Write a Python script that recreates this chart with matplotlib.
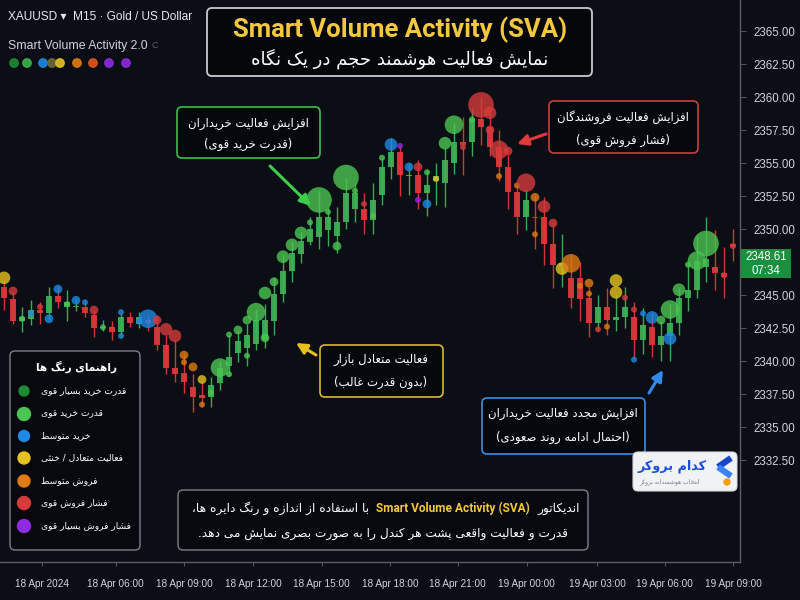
import numpy as np
import matplotlib
matplotlib.use('Agg')
import matplotlib.pyplot as plt
from matplotlib.patches import FancyBboxPatch, Rectangle, Circle
from matplotlib.transforms import blended_transform_factory
from matplotlib.offsetbox import TextArea, HPacker, AnnotationBbox

# ---------------- data ----------------
opens = [2345.6, 2344.7, 2343.0, 2343.2, 2343.9, 2343.6, 2344.9, 2344.1, 2344.1, 2344.1,
         2343.5, 2342.5, 2342.6, 2342.2, 2343.3, 2342.8, 2343.1, 2342.6, 2341.2, 2339.5,
         2339.1, 2338.0, 2337.4, 2337.3, 2338.3, 2339.6, 2340.6, 2341.0, 2341.3, 2341.6,
         2343.0, 2345.1, 2346.8, 2348.1, 2349.0, 2349.4, 2349.9, 2349.5, 2350.5, 2351.5,
         2351.5, 2350.7, 2352.6, 2354.7, 2355.8, 2354.0, 2354.1, 2352.7, 2353.6, 2353.5,
         2355.0, 2356.6, 2356.6, 2358.3, 2357.7, 2356.2, 2354.7, 2352.8, 2350.9, 2350.9,
         2350.9, 2348.9, 2347.2, 2346.3, 2346.3, 2344.8, 2342.9, 2344.1, 2343.1, 2343.3,
         2343.3, 2341.6, 2342.6, 2341.2, 2341.9, 2342.9, 2344.8, 2345.4, 2347.1, 2347.1,
         2346.7, 2348.9]
highs = [2346.1, 2345.2, 2344.1, 2344.6, 2344.5, 2345.6, 2345.7, 2345.4, 2344.7, 2344.6,
         2343.9, 2343.1, 2343.0, 2343.6, 2343.7, 2343.7, 2343.5, 2343.5, 2342.0, 2341.6,
         2340.5, 2339.0, 2338.5, 2338.8, 2340.0, 2342.0, 2342.3, 2342.8, 2343.9, 2344.3,
         2346.4, 2348.0, 2349.0, 2349.8, 2350.9, 2352.9, 2351.7, 2351.7, 2353.9, 2353.5,
         2352.7, 2353.5, 2355.4, 2356.9, 2356.3, 2355.0, 2355.2, 2354.5, 2355.0, 2356.1,
         2358.0, 2358.5, 2359.2, 2360.0, 2358.8, 2357.5, 2355.6, 2353.5, 2353.0, 2352.5,
         2352.4, 2350.5, 2349.6, 2348.0, 2347.5, 2345.6, 2345.0, 2345.5, 2345.0, 2345.6,
         2344.5, 2344.0, 2343.6, 2343.0, 2344.3, 2345.5, 2347.5, 2349.5, 2350.9, 2349.9,
         2348.6, 2350.0]
lows = [2343.9, 2342.8, 2342.2, 2342.7, 2342.8, 2343.1, 2344.0, 2343.0, 2343.8, 2343.3,
        2341.8, 2342.3, 2341.6, 2341.8, 2342.6, 2342.5, 2342.3, 2340.8, 2339.0, 2338.4,
        2337.6, 2336.1, 2336.5, 2336.5, 2337.8, 2338.9, 2339.9, 2339.6, 2340.8, 2341.0,
        2342.0, 2344.5, 2346.0, 2347.4, 2348.8, 2348.5, 2348.7, 2348.2, 2350.0, 2350.5,
        2349.6, 2349.6, 2351.8, 2353.8, 2352.5, 2352.6, 2351.5, 2351.0, 2351.8, 2351.7,
        2354.2, 2354.1, 2355.5, 2356.4, 2355.5, 2353.6, 2351.5, 2349.6, 2349.9, 2348.5,
        2347.3, 2345.5, 2345.6, 2344.0, 2343.0, 2341.8, 2342.3, 2342.0, 2342.3, 2342.5,
        2340.2, 2340.5, 2340.3, 2340.0, 2340.0, 2342.0, 2343.8, 2344.8, 2346.0, 2345.4,
        2344.8, 2347.6]
closes = [2344.8, 2343.0, 2343.3, 2343.9, 2343.6, 2344.9, 2344.5, 2344.5, 2344.2, 2343.6,
          2342.5, 2342.6, 2342.2, 2343.3, 2342.9, 2343.3, 2342.9, 2341.2, 2339.5, 2339.0,
          2338.4, 2337.3, 2337.2, 2338.2, 2339.5, 2340.3, 2341.5, 2342.0, 2343.1, 2343.1,
          2345.1, 2346.8, 2348.2, 2349.1, 2350.0, 2350.9, 2350.9, 2350.5, 2352.7, 2352.7,
          2350.7, 2352.2, 2354.7, 2355.8, 2354.1, 2354.1, 2352.7, 2353.3, 2354.0, 2355.2,
          2356.6, 2356.4, 2358.3, 2357.7, 2356.2, 2354.7, 2352.8, 2350.9, 2352.2, 2350.8,
          2348.9, 2347.3, 2347.4, 2344.8, 2344.7, 2342.9, 2344.1, 2343.1, 2343.3, 2344.1,
          2341.6, 2342.7, 2341.2, 2341.9, 2342.9, 2344.8, 2345.4, 2347.6, 2347.7, 2346.7,
          2346.4, 2348.61]

# SVA bubbles: price, activity class (0..6), strength level (1..5)
bubble_price = [2346.3, 2345.3, 2343.2, 2343.6, 2344.1, 2343.2, 2345.45, 2344.3, 2344.6, 2344.45,
                2343.86, 2342.55, 2342.4, 2343.7, 2343.1, 2343.0, 2343.2, 2343.1, 2342.4, 2341.9,
                2340.45, 2339.55, 2338.6, 2337.6, 2339.5, 2342.0, 2342.35, 2343.1, 2343.7, 2345.15,
                2346.0, 2347.9, 2348.8, 2349.7, 2350.5, 2352.2, 2351.3, 2348.7, 2353.9, 2352.9,
                2351.9, 2351.0, 2355.4, 2356.4, 2356.3, 2354.7, 2354.7, 2354.3, 2353.8, 2356.5,
                2357.9, 2356.2, 2358.3, 2359.4, 2358.8, 2356.0, 2355.9, 2353.3, 2353.5, 2352.4,
                2351.7, 2350.45, 2347.0, 2347.4, 2345.7, 2345.9, 2342.4, 2342.6, 2346.1, 2344.8,
                2343.9, 2343.6, 2343.3, 2343.1, 2343.9, 2345.4, 2347.3, 2347.6, 2348.9, 2346.9,
                2346.5, 2348.7]
bubble_class = [3, 5, 1, 2, 5, 2, 2, 1, 2, 2,
                5, 1, 5, 2, 5, 2, 2, 5, 5, 5,
                4, 4, 3, 1, 1, 1, 1, 1, 1, 1,
                1, 1, 1, 1, 1, 1, 1, 1, 1, 1,
                5, 1, 1, 2, 6, 2, 5, 1, 3, 1,
                1, 5, 1, 5, 5, 5, 5, 4, 5, 4,
                5, 5, 3, 4, 4, 4, 5, 4, 3, 5,
                5, 2, 2, 1, 1, 1, 1, 1, 1, 5,
                5, 5]
bubble_level = [3, 2, 1, 1, 1, 2, 2, 1, 2, 1,
                2, 1, 1, 1, 1, 1, 4, 2, 3, 3,
                2, 2, 2, 1, 4, 1, 2, 2, 4, 3,
                2, 3, 3, 3, 1, 5, 1, 2, 5, 1,
                1, 1, 1, 3, 1, 2, 2, 1, 1, 3,
                4, 1, 1, 5, 3, 4, 2, 1, 4, 2,
                3, 2, 3, 4, 1, 2, 1, 1, 3, 1,
                1, 1, 3, 2, 4, 3, 1, 4, 5, 1,
                1, 1]
# secondary dots
dot_index = [13, 20, 22, 25, 27, 29, 46, 47, 54, 55, 59, 65, 68, 70, 74]
dot_price = [2341.9, 2339.9, 2336.7, 2339.0, 2340.4, 2341.75, 2352.2, 2351.9, 2357.5, 2354.0,
             2349.6, 2345.1, 2345.2, 2340.1, 2341.7]
dot_class = [2, 4, 4, 1, 1, 1, 6, 2, 5, 4, 4, 4, 3, 2, 2]
dot_level = [1, 1, 1, 1, 1, 2, 1, 2, 2, 1, 1, 1, 3, 1, 3]

price_ticks = [2332.5, 2335.0, 2337.5, 2340.0, 2342.5, 2345.0, 2350.0,
               2352.5, 2355.0, 2357.5, 2360.0, 2362.5, 2365.0]
time_labels = ['18 Apr 2024', '18 Apr 06:00', '18 Apr 09:00', '18 Apr 12:00', '18 Apr 15:00',
               '18 Apr 18:00', '18 Apr 21:00', '19 Apr 00:00', '19 Apr 03:00', '19 Apr 06:00',
               '19 Apr 09:00']
time_label_pos = [4.2, 12.4, 20.0, 27.7, 35.3, 42.9, 50.4, 58.1, 65.9, 73.4, 81.0]
last_price = 2348.61
countdown = '07:34'

class_colors = ['#1e8a34', '#4cc552', '#1e88e5', '#e6c21e', '#e07a12', '#d63a3a', '#8e2be0']
legend_labels = ['قدرت خرید بسیار قوی', 'قدرت خرید قوی', 'خرید متوسط', 'فعالیت متعادل / خنثی',
                 'فروش متوسط', 'فشار فروش قوی', 'فشار فروش بسیار قوی']
header_dot_colors = ['#1e8a34', '#3cb44a', '#1e88e5', '#6e6a3a', '#e6c21e', '#e07a12',
                     '#e0561c', '#8e2be0', '#8e2be0']

# ---------------- minimal Persian shaping ----------------
FORMS = {
    '\u0627': ('\uFE8D', '\uFE8E', None, None), '\u0622': ('\uFE81', '\uFE82', None, None),
    '\u0628': ('\uFE8F', '\uFE90', '\uFE91', '\uFE92'), '\u067E': ('\uFB56', '\uFB57', '\uFB58', '\uFB59'),
    '\u062A': ('\uFE95', '\uFE96', '\uFE97', '\uFE98'), '\u062B': ('\uFE99', '\uFE9A', '\uFE9B', '\uFE9C'),
    '\u062C': ('\uFE9D', '\uFE9E', '\uFE9F', '\uFEA0'), '\u0686': ('\uFB7A', '\uFB7B', '\uFB7C', '\uFB7D'),
    '\u062D': ('\uFEA1', '\uFEA2', '\uFEA3', '\uFEA4'), '\u062E': ('\uFEA5', '\uFEA6', '\uFEA7', '\uFEA8'),
    '\u062F': ('\uFEA9', '\uFEAA', None, None), '\u0630': ('\uFEAB', '\uFEAC', None, None),
    '\u0631': ('\uFEAD', '\uFEAE', None, None), '\u0632': ('\uFEAF', '\uFEB0', None, None),
    '\u0698': ('\uFB8A', '\uFB8B', None, None),
    '\u0633': ('\uFEB1', '\uFEB2', '\uFEB3', '\uFEB4'), '\u0634': ('\uFEB5', '\uFEB6', '\uFEB7', '\uFEB8'),
    '\u0635': ('\uFEB9', '\uFEBA', '\uFEBB', '\uFEBC'), '\u0636': ('\uFEBD', '\uFEBE', '\uFEBF', '\uFEC0'),
    '\u0637': ('\uFEC1', '\uFEC2', '\uFEC3', '\uFEC4'), '\u0638': ('\uFEC5', '\uFEC6', '\uFEC7', '\uFEC8'),
    '\u0639': ('\uFEC9', '\uFECA', '\uFECB', '\uFECC'), '\u063A': ('\uFECD', '\uFECE', '\uFECF', '\uFED0'),
    '\u0641': ('\uFED1', '\uFED2', '\uFED3', '\uFED4'), '\u0642': ('\uFED5', '\uFED6', '\uFED7', '\uFED8'),
    '\u06A9': ('\uFB8E', '\uFB8F', '\uFB90', '\uFB91'), '\u06AF': ('\uFB92', '\uFB93', '\uFB94', '\uFB95'),
    '\u0644': ('\uFEDD', '\uFEDE', '\uFEDF', '\uFEE0'), '\u0645': ('\uFEE1', '\uFEE2', '\uFEE3', '\uFEE4'),
    '\u0646': ('\uFEE5', '\uFEE6', '\uFEE7', '\uFEE8'), '\u0648': ('\uFEED', '\uFEEE', None, None),
    '\u0647': ('\uFEE9', '\uFEEA', '\uFEEB', '\uFEEC'), '\u06CC': ('\uFBFC', '\uFBFD', '\uFBFE', '\uFBFF'),
}
MIRROR = {'(': ')', ')': '(', '[': ']', ']': '['}


def shape(s):
    s = s.replace('\u064A', '\u06CC').replace('\u0643', '\u06A9')
    ch = list(s)
    n = len(ch)
    dual = lambda c: c in FORMS and FORMS[c][2] is not None
    out = []
    i = 0
    while i < n:
        c = ch[i]
        prev = ch[i - 1] if i > 0 else ''
        cp = dual(prev)
        if c == '\u0644' and i + 1 < n and ch[i + 1] in ('\u0627', '\u0622'):
            out.append('\uFEFC' if cp else '\uFEFB')
            i += 2
            continue
        if c in FORMS:
            nxt = ch[i + 1] if i + 1 < n else ''
            cn = dual(c) and nxt in FORMS
            iso, fin, ini, med = FORMS[c]
            out.append(med if (cp and cn) else fin if cp else ini if cn else iso)
        else:
            out.append(c)
        i += 1
    return ''.join(out).replace('\u200c', '')


def fa(s):
    return ''.join(MIRROR.get(c, c) for c in reversed(shape(s)))


FA = ['DejaVu Sans']
LAT = ['Liberation Sans', 'DejaVu Sans']
BG = '#0b0e15'

# ---------------- figure ----------------
fig = plt.figure(figsize=(8, 6), dpi=100, facecolor=BG)
ax = fig.add_axes([0, 38 / 600, 740 / 800, 562 / 600])
ax.set_facecolor(BG)

n = len(closes)
x = np.arange(n)
o = np.array(opens); c = np.array(closes); h = np.array(highs); l = np.array(lows)
up = c >= o
cols = np.where(up, '#3fb356', '#e2383b')
ax.vlines(x, l, h, colors=cols, lw=1.0, zorder=3, alpha=0.95)
body_h = np.maximum(np.abs(c - o), 0.08)
ax.bar(x, body_h, bottom=np.minimum(o, c), width=0.64, color=cols, zorder=4, alpha=0.92, linewidth=0)


def rad_to_s(r):
    return (2 * r * 0.72) ** 2


radius = {1: 3.0, 2: 4.4, 3: 6.3, 4: 9.3, 5: 12.8}
ax.scatter(x, bubble_price, s=[rad_to_s(radius[v]) for v in bubble_level],
           c=[class_colors[k] for k in bubble_class], alpha=0.8, linewidths=0, zorder=5)
ax.scatter(np.array(dot_index), dot_price, s=[rad_to_s(radius[v]) for v in dot_level],
           c=[class_colors[k] for k in dot_class], alpha=0.8, linewidths=0, zorder=5)

ax.set_xlim(-4 / 9, 736 / 9)
ax.set_ylim(2365 - 531 / 13.2, 2365 + 31 / 13.2)
ax.yaxis.tick_right()
ax.set_yticks(price_ticks)
ax.set_yticklabels([f'{p:.2f}' for p in price_ticks], family=LAT)
ax.set_xticks(time_label_pos)
ax.set_xticklabels(time_labels, family=LAT)
ax.tick_params(axis='y', length=4, pad=6, labelsize=8.3, labelcolor='#d1d4dc', color='#50535e')
ax.tick_params(axis='x', length=3, pad=9, labelsize=7.2, labelcolor='#d1d4dc', color='#50535e')
for side in ['top', 'left']:
    ax.spines[side].set_visible(False)
for side in ['right', 'bottom']:
    ax.spines[side].set_color('#5a5d66')
    ax.spines[side].set_linewidth(1.0)

# last price label
bt = blended_transform_factory(ax.transAxes, ax.transData)
ax.add_patch(Rectangle((1.001, last_price - 2.32), 50 / 740, 2.19, transform=bt,
                       facecolor='#1c8f3e', edgecolor='none', clip_on=False, zorder=6))
ax.text(1.0 + 26 / 740, last_price - 0.73, f'{last_price:.2f}', transform=bt, ha='center', va='center',
        color='white', fontsize=8.3, family=LAT, zorder=7, clip_on=False)
ax.text(1.0 + 26 / 740, last_price - 1.79, countdown, transform=bt, ha='center', va='center',
        color='white', fontsize=8.3, family=LAT, zorder=7, clip_on=False)

# ---------------- overlay (pixel coordinates) ----------------
ov = fig.add_axes([0, 0, 1, 1], zorder=10)
ov.set_xlim(0, 800)
ov.set_ylim(600, 0)
ov.axis('off')
ov.patch.set_alpha(0)


def rbox(x0, y0, x1, y1, ec, fc='#06080d', lw=1.2, r=5):
    ov.add_patch(FancyBboxPatch((x0, y0), x1 - x0, y1 - y0,
                                boxstyle=f'round,pad=0,rounding_size={r}',
                                ec=ec, fc=fc, lw=lw, zorder=1))


def arrow(tail, head, color):
    ov.annotate('', xy=head, xytext=tail,
                arrowprops=dict(arrowstyle='-|>', color=color, lw=2.2, mutation_scale=16,
                                shrinkA=0, shrinkB=0), zorder=3)


# header
ov.text(8, 17, 'XAUUSD ▾  M15 · Gold / US Dollar', color='#e6e8ee', fontsize=8.6,
        family=LAT, va='center', ha='left')
ov.text(8, 46, 'Smart Volume Activity 2.0', color='#d1d4dc', fontsize=8.8,
        family=LAT, va='center', ha='left')
ov.text(151, 46, 'C', color='#5d606b', fontsize=6.5, family=LAT, va='center', ha='left')
for xx, col in zip([14, 27, 43, 52, 60, 77, 93, 109, 126], header_dot_colors):
    ov.add_patch(Circle((xx, 63), 4.2, color=col, alpha=0.9, zorder=2))

# title box
rbox(207, 8, 592, 76, ec='#c9cbd0', fc='#05070a', lw=1.3, r=5)
ov.text(400, 30, 'Smart Volume Activity (SVA)', color='#f4c83e', fontsize=18.5,
        family=['Roboto', 'DejaVu Sans'], weight='bold', ha='center', va='center', zorder=2)
ov.text(400, 59, fa('نمایش فعالیت هوشمند حجم در یک نگاه'), color='white', fontsize=13,
        family=FA, ha='center', va='center', zorder=2)

# annotation boxes
AF = 8.4
rbox(177, 107, 320, 158, ec='#3cbf4c')
ov.text(248, 123, fa('افزایش فعالیت خریداران'), color='white', fontsize=AF, family=FA,
        ha='center', va='center', zorder=2)
ov.text(248, 144, fa('(قدرت خرید قوی)'), color='white', fontsize=AF, family=FA,
        ha='center', va='center', zorder=2)
arrow((270, 166), (311, 206), '#3ccc4a')

rbox(549, 101, 698, 153, ec='#d33b3b')
ov.text(623, 117, fa('افزایش فعالیت فروشندگان'), color='white', fontsize=AF, family=FA,
        ha='center', va='center', zorder=2)
ov.text(623, 140, fa('(فشار فروش قوی)'), color='white', fontsize=AF, family=FA,
        ha='center', va='center', zorder=2)
arrow((546, 134), (517, 144), '#e03a3a')

rbox(320, 345, 443, 397, ec='#d8b92c')
ov.text(381, 360, fa('فعالیت متعادل بازار'), color='white', fontsize=AF, family=FA,
        ha='center', va='center', zorder=2)
ov.text(381, 382, fa('(بدون قدرت غالب)'), color='white', fontsize=AF, family=FA,
        ha='center', va='center', zorder=2)
arrow((316, 355), (296, 343), '#e6c020')

rbox(482, 398, 645, 454, ec='#3a8ee6')
ov.text(563, 413, fa('افزایش مجدد فعالیت خریداران'), color='white', fontsize=AF, family=FA,
        ha='center', va='center', zorder=2)
ov.text(563, 437, fa('(احتمال ادامه روند صعودی)'), color='white', fontsize=AF, family=FA,
        ha='center', va='center', zorder=2)
arrow((649, 393), (663, 370), '#2f8ae8')

# legend box
rbox(10, 351, 140, 550, ec='#7d8088', fc='#07090e', lw=1.0)
ov.text(77, 367, fa('راهنمای رنگ ها'), color='white', fontsize=7.6, family=FA, weight='bold',
        ha='center', va='center', zorder=2)
leg_y = [391, 414, 436, 458, 481, 503, 526]
for yy, col, lab, rr in zip(leg_y, class_colors, legend_labels, [5, 6.5, 5.5, 6, 6, 6.5, 6.5]):
    ov.add_patch(Circle((24, yy), rr, color=col, zorder=2))
    ov.text(41, yy, fa(lab), color='white', fontsize=6.6, family=FA, ha='left', va='center', zorder=2)

# bottom description box
BF = 8.7
rbox(178, 490, 588, 550, ec='#7d8088', fc='#07090e', lw=1.0)
t_left = TextArea(fa('با استفاده از اندازه و رنگ دایره ها،'),
                  textprops=dict(color='white', fontsize=BF, family=FA))
t_mid = TextArea('Smart Volume Activity (SVA)',
                 textprops=dict(color='#f4c83e', fontsize=8.6, family=['Roboto', 'DejaVu Sans'],
                                weight='bold'))
t_right = TextArea(fa('اندیکاتور'), textprops=dict(color='white', fontsize=BF, family=FA))
hp = HPacker(children=[t_left, t_mid, t_right], align='baseline', pad=0, sep=5)
ab = AnnotationBbox(hp, (386, 508), xycoords='data', frameon=False, box_alignment=(0.5, 0.5),
                    zorder=2)
ov.add_artist(ab)
ov.text(383, 533, fa('قدرت و فعالیت واقعی پشت هر کندل را به صورت بصری نمایش می دهد.'),
        color='white', fontsize=BF, family=FA, ha='center', va='center', zorder=2)

# logo
rbox(633, 452, 737, 491, ec='#d9dbe0', fc='#f1f2f5', lw=0.8, r=5)
ov.text(672, 466, fa('کدام بروکر'), color='#1d4fd8', fontsize=9.2, family=FA, weight='bold',
        ha='center', va='center', zorder=3)
ov.text(670, 482, fa('انتخاب هوشمندانه بروکر'), color='#7a7d85', fontsize=4.3, family=FA,
        ha='center', va='center', zorder=3)
ov.plot([731, 718], [458, 467], color='#1746c9', lw=4.5, solid_capstyle='butt', zorder=3)
ov.plot([718, 731], [467, 476], color='#3b82f6', lw=4.5, solid_capstyle='butt', zorder=3)
ov.add_patch(Circle((727, 482), 3, color='#f59e0b', zorder=3))

fig.savefig('out.png', dpi=100, facecolor=BG)
